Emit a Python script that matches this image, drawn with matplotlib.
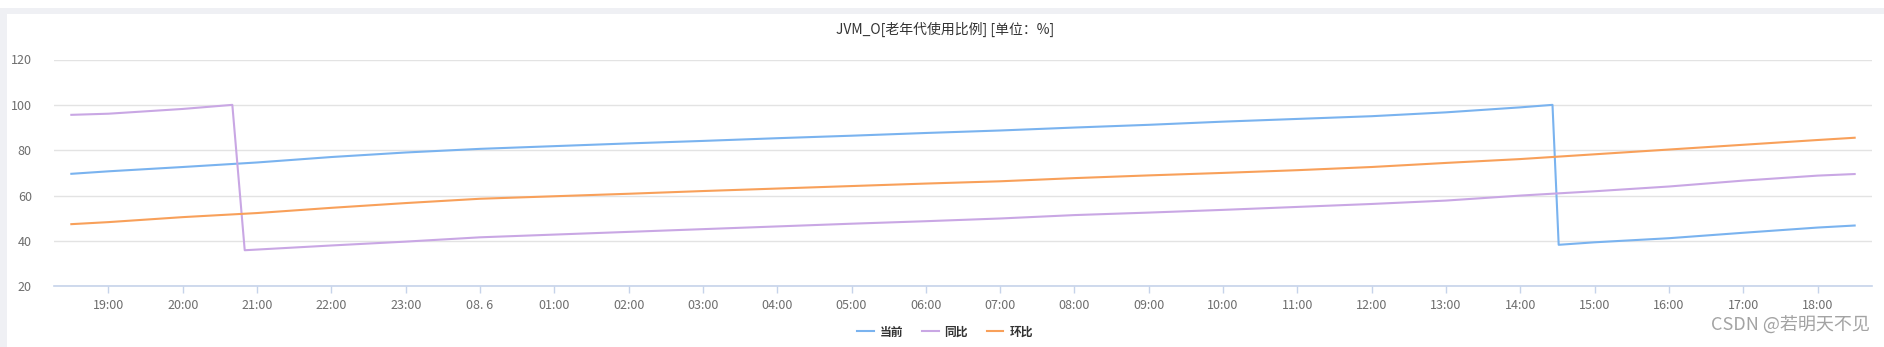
import matplotlib.pyplot as plt
import matplotlib.dates as mdates
import pandas as pd
from matplotlib.patches import Rectangle

plt.rcParams['font.family'] = ['Noto Sans CJK SC', 'DejaVu Sans']

# 当前 (current)
cur_times = ["2022-08-05 18:30", "2022-08-05 19:00", "2022-08-05 20:00", "2022-08-05 21:00",
             "2022-08-05 22:00", "2022-08-05 23:00", "2022-08-06 00:00", "2022-08-06 01:00",
             "2022-08-06 02:00", "2022-08-06 03:00", "2022-08-06 04:00", "2022-08-06 05:00",
             "2022-08-06 06:00", "2022-08-06 07:00", "2022-08-06 08:00", "2022-08-06 09:00",
             "2022-08-06 10:00", "2022-08-06 11:00", "2022-08-06 12:00", "2022-08-06 13:00",
             "2022-08-06 14:00", "2022-08-06 14:26", "2022-08-06 14:31", "2022-08-06 15:00",
             "2022-08-06 16:00", "2022-08-06 17:00", "2022-08-06 18:00", "2022-08-06 18:30"]
cur_values = [69.6, 70.7, 72.6, 74.6, 77.0, 79.0, 80.6, 81.8, 83.0, 84.1, 85.3, 86.4,
              87.6, 88.7, 90.0, 91.2, 92.6, 93.8, 95.0, 96.7, 98.9, 100.0, 38.3, 39.4,
              41.2, 43.6, 45.9, 46.8]

# 同比 (year over year)
yoy_times = ["2022-08-05 18:30", "2022-08-05 19:00", "2022-08-05 20:00", "2022-08-05 20:40",
             "2022-08-05 20:50", "2022-08-05 21:00", "2022-08-05 22:00", "2022-08-05 23:00",
             "2022-08-06 00:00", "2022-08-06 01:00", "2022-08-06 02:00", "2022-08-06 03:00",
             "2022-08-06 04:00", "2022-08-06 05:00", "2022-08-06 06:00", "2022-08-06 07:00",
             "2022-08-06 08:00", "2022-08-06 09:00", "2022-08-06 10:00", "2022-08-06 11:00",
             "2022-08-06 12:00", "2022-08-06 13:00", "2022-08-06 14:00", "2022-08-06 15:00",
             "2022-08-06 16:00", "2022-08-06 17:00", "2022-08-06 18:00", "2022-08-06 18:30"]
yoy_values = [95.6, 96.1, 98.2, 100.0, 35.9, 36.2, 38.0, 39.7, 41.6, 42.8, 44.0, 45.2,
              46.4, 47.6, 48.7, 49.9, 51.4, 52.5, 53.7, 55.0, 56.3, 57.8, 60.0, 61.9,
              64.0, 66.6, 68.8, 69.5]

# 环比 (period over period)
mom_times = ["2022-08-05 18:30", "2022-08-05 19:00", "2022-08-05 20:00", "2022-08-05 21:00",
             "2022-08-05 22:00", "2022-08-05 23:00", "2022-08-06 00:00", "2022-08-06 01:00",
             "2022-08-06 02:00", "2022-08-06 03:00", "2022-08-06 04:00", "2022-08-06 05:00",
             "2022-08-06 06:00", "2022-08-06 07:00", "2022-08-06 08:00", "2022-08-06 09:00",
             "2022-08-06 10:00", "2022-08-06 11:00", "2022-08-06 12:00", "2022-08-06 13:00",
             "2022-08-06 14:00", "2022-08-06 15:00", "2022-08-06 16:00", "2022-08-06 17:00",
             "2022-08-06 18:00", "2022-08-06 18:30"]
mom_values = [47.4, 48.3, 50.5, 52.3, 54.6, 56.7, 58.6, 59.7, 60.8, 62.0, 63.1, 64.2,
              65.3, 66.3, 67.7, 68.9, 70.0, 71.2, 72.6, 74.4, 76.1, 78.2, 80.3, 82.4,
              84.5, 85.5]

y_ticks = [20, 40, 60, 80, 100, 120]

fig = plt.figure(figsize=(18.84, 3.47), dpi=100)
fig.patch.set_facecolor('white')

# light grey card frame
frame = '#eff0f4'
fig.patches.append(Rectangle((0, 1 - 14 / 347), 1, 6 / 347, transform=fig.transFigure,
                             facecolor=frame, edgecolor='none'))
fig.patches.append(Rectangle((0, 0), 7 / 1884, 1 - 8 / 347, transform=fig.transFigure,
                             facecolor=frame, edgecolor='none'))

ax = fig.add_axes([54 / 1884, 1 - 286.3 / 347, (1872 - 54) / 1884, (286.3 - 59.5) / 347])

ax.plot(pd.to_datetime(cur_times), cur_values, color='#7ab3ef', lw=1.5, label='当前')
ax.plot(pd.to_datetime(yoy_times), yoy_values, color='#c9a7e4', lw=1.5, label='同比')
ax.plot(pd.to_datetime(mom_times), mom_values, color='#f8a05a', lw=1.5, label='环比')

ax.set_ylim(20, 120)
ax.set_yticks(y_ticks)
ax.set_xlim(pd.Timestamp("2022-08-05 18:16"), pd.Timestamp("2022-08-06 18:44"))

ax.xaxis.set_major_locator(mdates.HourLocator())


def hour_label(x, pos):
    t = mdates.num2date(x)
    if t.hour == 0:
        return t.strftime('%m. ') + str(t.day)
    return t.strftime('%H:%M')


ax.xaxis.set_major_formatter(plt.FuncFormatter(hour_label))

ax.grid(axis='y', color='#e3e3e3', lw=1)
ax.set_axisbelow(True)
for s in ['left', 'right', 'top']:
    ax.spines[s].set_visible(False)
ax.spines['bottom'].set_color('#c6d3ea')
ax.spines['bottom'].set_linewidth(1.2)
ax.tick_params(axis='x', colors='#c6d3ea', length=5, width=1, labelcolor='#6e6e6e',
               labelsize=9, pad=4)
ax.tick_params(axis='y', length=0, labelcolor='#6e6e6e', labelsize=9, pad=16)

fig.text(945 / 1884, 1 - 29 / 347, 'JVM_O[老年代使用比例] [单位：%]', ha='center', va='center',
         fontsize=10, color='#333333')

leg = fig.legend(loc='center', bbox_to_anchor=(945 / 1884, 1 - 332 / 347), ncol=3,
                 frameon=False, handlelength=1.4, columnspacing=1.6, handletextpad=0.5,
                 prop={'size': 8.5, 'weight': 'bold'})
for t in leg.get_texts():
    t.set_color('#333333')

fig.text(1870 / 1884, 1 - 326 / 347, 'CSDN @若明天不见', ha='right', va='center',
         fontsize=13, color='#a3a3a3')

plt.savefig('out.png', dpi=100)
